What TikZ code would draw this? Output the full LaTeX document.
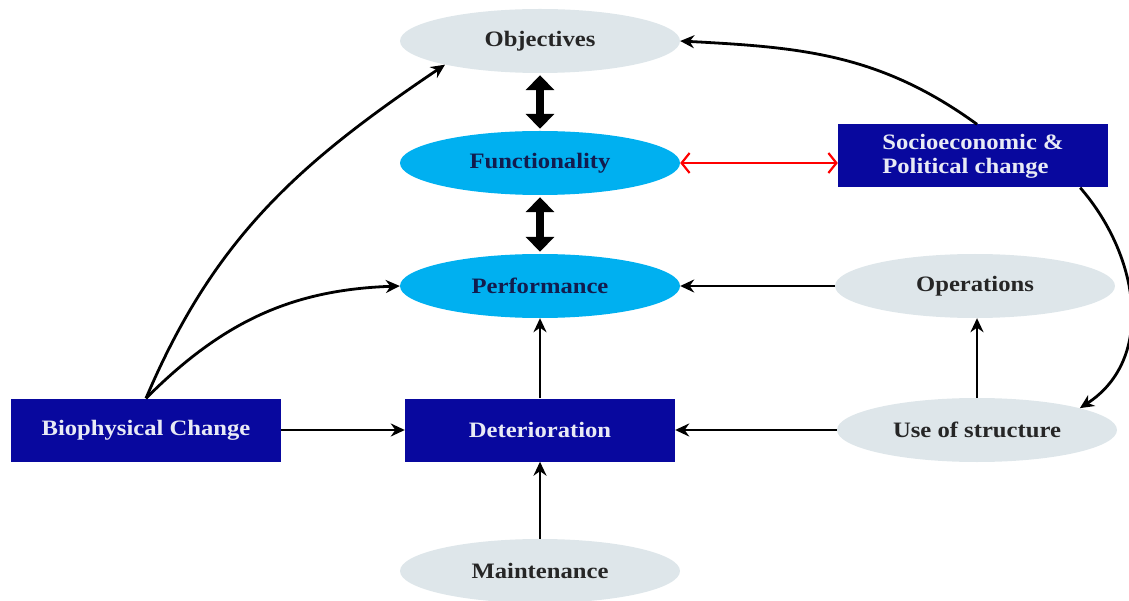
\documentclass[tikz,border=0pt]{standalone}
\usepackage{fontspec}
\setmainfont{Liberation Serif}[FakeStretch=1.12]
\usetikzlibrary{shapes.geometric,arrows.meta}
\definecolor{ovalgrey}{RGB}{222,230,234}
\definecolor{skyfill}{RGB}{0,176,240}
\definecolor{navybox}{RGB}{8,8,158}
\definecolor{navytext}{RGB}{18,28,78}
\definecolor{boxtext}{RGB}{232,234,245}

\begin{document}
\begin{tikzpicture}[x=1pt,y=-1pt,
  lbl/.style={font=\fontsize{22}{24}\selectfont\bfseries},
  oval/.style={ellipse, fill=ovalgrey, minimum width=280pt, minimum height=64pt,
    inner sep=0pt, lbl, text=black!85},
  skyoval/.style={oval, fill=skyfill, text=navytext},
  bluebox/.style={rectangle, fill=navybox, minimum width=270pt, minimum height=63pt,
    inner sep=0pt, lbl, text=boxtext, align=left},
  flow/.style={-{Stealth[length=14pt,width=13pt]}, line width=2.8pt},
  bigtwo/.style={{Triangle[length=15pt,width=28pt]}-{Triangle[length=15pt,width=28pt]},
    line width=8pt},
  redtwo/.style={{Straight Barb[length=8pt,width=20pt]}-{Straight Barb[length=8pt,width=20pt]},
    draw=red, line width=2.2pt}]
\useasboundingbox (0,0) rectangle (1129,601);

% nodes
\node[oval]    (obj)   at (540,41)  {Objectives};
\node[skyoval] (func)  at (540,163) {Functionality};
\node[skyoval] (perf)  at (540,286) {Performance};
\node[bluebox] (socio) at (973,156) {Socioeconomic \&\\Political change};
\node[oval]    (ops)   at (975,286) {Operations};
\node[oval]    (use)   at (977,430) {Use of structure};
\node[bluebox] (det)   at (540,430) {Deterioration};
\node[bluebox] (bio)   at (146,430) {Biophysical Change};
\node[oval]    (maint) at (540,571) {Maintenance};

% two-way links in the central column
\draw[bigtwo, shorten <=2pt, shorten >=2pt] (obj.south) -- (func.north);
\draw[bigtwo, shorten <=2pt, shorten >=2pt] (func.south) -- (perf.north);
\draw[redtwo] (func.east) -- (func.east -| socio.west);

% straight influences
\draw[flow] (ops.west) -- (perf.east);
\draw[flow] (use.north) -- (use.north |- ops.south);
\draw[flow] (use.west) -- (det.east);
\draw[flow] (bio.east) -- (det.west);
\draw[flow] (maint.north) -- (det.south);
\draw[flow] (det.north) -- (perf.south);

% curved influences
\draw[flow] (bio.north) to[out=67,in=214] (obj.194);
\draw[flow] (bio.north) to[out=45,in=182] (perf.west);
\draw[flow] ([xshift=4pt]socio.north) to[out=144,in=-3] (obj.east);
\draw[flow] ([xshift=-28pt]socio.south east) to[out=-49,in=33,looseness=1.05] (use.12);
\end{tikzpicture}
\end{document}
